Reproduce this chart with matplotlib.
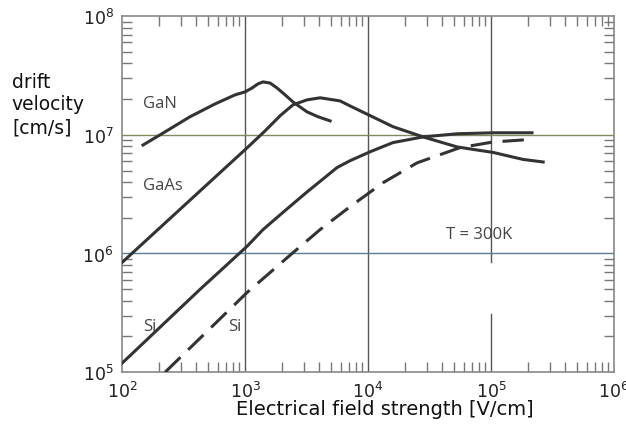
import matplotlib.pyplot as plt
from matplotlib.ticker import LogLocator, NullFormatter

# field strength [V/cm] and drift velocity [cm/s]
gan_E = [148, 224, 357, 570, 829, 1000, 1140, 1276, 1400, 1597, 1820, 2115, 2455, 3190, 3915, 4910]
gan_v = [8.2e6, 1.06e7, 1.42e7, 1.82e7, 2.17e7, 2.30e7, 2.48e7, 2.69e7, 2.79e7, 2.73e7, 2.48e7,
         2.17e7, 1.89e7, 1.56e7, 1.42e7, 1.31e7]

gaas_E = [100, 1057, 1455, 1930, 2455, 3190, 4075, 5920, 7140, 10400, 15950, 28000, 53000,
          1.04e5, 1.82e5, 2.65e5]
gaas_v = [8.4e5, 7.9e6, 1.08e7, 1.45e7, 1.79e7, 1.97e7, 2.05e7, 1.93e7, 1.75e7, 1.45e7, 1.17e7,
          9.6e6, 7.9e6, 7.1e6, 6.2e6, 5.9e6]

si_E = [100, 430, 1038, 1400, 2115, 3190, 5600, 7140, 10400, 15950, 28000, 53000, 1.04e5, 2.15e5]
si_v = [1.19e5, 4.98e5, 1.15e6, 1.59e6, 2.3e6, 3.3e6, 5.3e6, 6.05e6, 7.2e6, 8.6e6, 9.6e6, 1.02e7,
        1.04e7, 1.04e7]

si2_E = [224, 1040, 2410, 4075, 7140, 13250, 25000, 38500, 56000, 1.04e5, 1.96e5]
si2_v = [1.0e5, 4.7e5, 1.0e6, 1.59e6, 2.48e6, 3.95e6, 5.8e6, 6.8e6, 7.8e6, 8.7e6, 9.1e6]

plt.rcParams['mathtext.default'] = 'regular'

fig = plt.figure(figsize=(6.26, 4.39), dpi=100)
ax = fig.add_axes([0.195, 0.150, 0.786, 0.811])
ax.set_xscale('log')
ax.set_yscale('log')
ax.set_xlim(1e2, 1e6)
ax.set_ylim(1e5, 1e8)

# grid lines
ax.axvline(1e3, color='#555555', lw=1, zorder=1)
ax.axvline(1e4, color='#555555', lw=1, zorder=1)
ax.axvline(1e5, color='#555555', lw=1, ymin=0, ymax=0.163, zorder=1)
ax.axvline(1e5, color='#555555', lw=1, ymin=0.309, ymax=1, zorder=1)
ax.axhline(1e7, color='#7d8c5c', lw=1, zorder=1)
ax.axhline(1e6, color='#5b7d92', lw=1, zorder=1)

c = '#333333'
ax.plot(gan_E, gan_v, color=c, lw=2.2, zorder=3, solid_joinstyle='round')
ax.plot(gaas_E, gaas_v, color=c, lw=2.2, zorder=3, solid_joinstyle='round')
ax.plot(si_E, si_v, color=c, lw=2.2, zorder=3, solid_joinstyle='round')
ax.plot(si2_E, si2_v, color=c, lw=2.2, dashes=(7, 3.5), zorder=3)

tc = '#444444'
tf = 'Open Sans'
fs = 12
ax.text(148, 1.86e7, 'GaN', color=tc, fontsize=fs, family=tf, va='center')
ax.text(148, 3.8e6, 'GaAs', color=tc, fontsize=fs, family=tf, va='center')
ax.text(148, 2.44e5, 'Si', color=tc, fontsize=fs, family=tf, va='center')
ax.text(728, 2.44e5, 'Si', color=tc, fontsize=fs, family=tf, va='center')
ax.text(43000, 1.45e6, 'T = 300K', color=tc, fontsize=fs, family=tf, va='center')

for s in ax.spines.values():
    s.set_color('#888888')
    s.set_linewidth(1.2)

for a in (ax.xaxis, ax.yaxis):
    a.set_major_locator(LogLocator(base=10, numticks=10))
    a.set_minor_locator(LogLocator(base=10, subs=range(2, 10), numticks=10))
    a.set_minor_formatter(NullFormatter())
ax.tick_params(which='both', direction='in', top=True, right=True, color='#777777')
ax.tick_params(which='minor', length=7, width=1)
ax.tick_params(which='major', length=0, labelsize=12.5, labelcolor='#222222', pad=6)

fig.text(0.019, 1 - 105 / 439, 'drift\nvelocity\n[cm/s]', fontsize=13.5, va='center', ha='left',
         linespacing=1.25, color='#111111')
fig.text(385 / 626, 1 - 410 / 439, 'Electrical field strength [V/cm]', fontsize=14,
         ha='center', va='center', color='#111111')

fig.savefig('out.png', dpi=100)
